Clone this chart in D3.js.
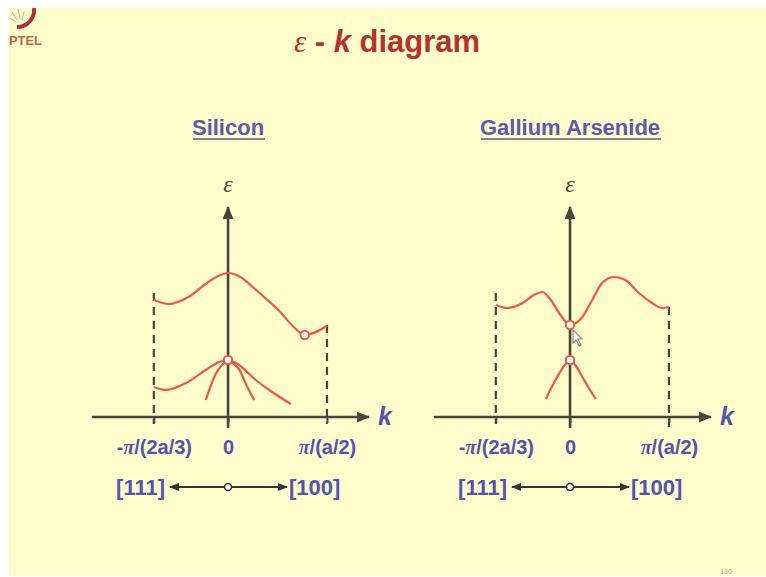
<!DOCTYPE html>
<html>
<head>
<meta charset="utf-8">
<script src="https://cdn.jsdelivr.net/npm/d3@7"></script>
<style>
  html, body { margin: 0; padding: 0; background: #ffffff; }
  svg { display: block; }
</style>
</head>
<body>
<svg id="chart" width="766" height="577"></svg>
<script>
// k is measured in units of π/a, ε in arbitrary energy units
const kTicks = [-1.5, 0, 2];
const kTickLabels = ["-π/(2a/3)", "0", "π/(a/2)"];
const directionLabels = ["[111]", "[100]"];
const panelTitles = ["Silicon", "Gallium Arsenide"];

// Silicon: conduction band and the valence bands meeting at k = 0
const siConduction = [[-1.5, 11.7], [-1.2, 11.3], [-0.8, 12.0], [-0.4, 13.5], [-0.2, 14.1],
  [0, 14.4], [0.25, 14.0], [0.5, 13.0], [0.75, 11.9], [1.0, 10.8], [1.35, 8.9],
  [1.55, 8.2], [2.0, 9.1]];
const siHeavyHole = [[-1.5, 3.0], [-1.26, 2.7], [-0.85, 3.4], [-0.45, 4.7], [-0.18, 5.5],
  [0, 5.7], [0.22, 5.2], [0.56, 3.7], [0.89, 2.5], [1.27, 1.3]];
const siLightHoleLeft = [[-0.45, 1.7], [-0.35, 3.1], [-0.25, 4.3], [-0.12, 5.2], [0, 5.7]];
const siLightHoleRight = [[0, 5.7], [0.12, 5.3], [0.22, 4.8], [0.39, 3.0], [0.53, 1.7]];
const siExtrema = [[0, 5.7], [1.55, 8.2]];
const siZoneEdgeTop = [12.4, 9.2];

// Gallium arsenide: direct gap at k = 0
const gaConduction = [[-1.5, 11.2], [-1.27, 10.9], [-0.96, 11.4], [-0.73, 12.2], [-0.56, 12.5],
  [-0.39, 11.7], [-0.22, 10.4], [0, 9.2], [0.25, 10.0], [0.45, 11.7], [0.65, 13.4],
  [0.89, 14.0], [1.12, 13.7], [1.39, 12.4], [1.66, 11.4], [1.86, 10.9], [2.0, 11.0]];
const gaValence = [[-0.49, 1.8], [-0.38, 2.9], [-0.26, 4.0], [-0.12, 5.1], [0, 5.7],
  [0.12, 5.1], [0.25, 4.0], [0.38, 2.9], [0.52, 1.8]];
const gaExtrema = [[0, 5.7], [0, 9.2]];
const gaZoneEdgeTop = [12.4, 11.0];

const kDomain = [-2.75, 2.85];
const eDomain = [-1.1, 21];

const BG = "#fffdcc";
const BAND = "#ee5842";
const AXIS = "#46463a";
const BLUE = "#5353b0";
const SANS = "'Liberation Sans', Arial, sans-serif";
const SERIF = "'Liberation Serif', 'Times New Roman', serif";

const svg = d3.select("#chart");

// slide background
svg.append("rect").attr("x", 0).attr("y", 0).attr("width", 766).attr("height", 577).attr("fill", "#ffffff");
svg.append("rect").attr("x", 9).attr("y", 8).attr("width", 757).attr("height", 568).attr("fill", BG);

// arrowhead markers
const defs = svg.append("defs");
defs.append("marker")
  .attr("id", "arrow")
  .attr("markerUnits", "userSpaceOnUse")
  .attr("viewBox", "0 0 12 10")
  .attr("refX", 11).attr("refY", 5)
  .attr("markerWidth", 13).attr("markerHeight", 11)
  .attr("orient", "auto-start-reverse")
  .append("path").attr("d", "M0,0 L12,5 L0,10 Z").attr("fill", AXIS);
defs.append("marker")
  .attr("id", "arrowSmall")
  .attr("markerUnits", "userSpaceOnUse")
  .attr("viewBox", "0 0 10 8")
  .attr("refX", 9).attr("refY", 4)
  .attr("markerWidth", 10).attr("markerHeight", 8)
  .attr("orient", "auto-start-reverse")
  .append("path").attr("d", "M0,0 L10,4 L0,8 Z").attr("fill", "#333333");

// logo corner
const logo = svg.append("g");
logo.append("path")
  .attr("d", "M34,8 A17,17 0 0 1 17,27")
  .attr("fill", "none").attr("stroke", "#b0303a").attr("stroke-width", 4);
logo.append("path")
  .attr("d", "M12,12 L17,20 M18,9 L20,19 M24,12 L22,20 M10,18 L16,22")
  .attr("stroke", "#c9a8a0").attr("stroke-width", 1).attr("fill", "none");
logo.append("text")
  .attr("x", 9).attr("y", 45)
  .attr("font-family", SANS).attr("font-weight", "bold").attr("font-size", 12)
  .attr("fill", "#bb6a3a").attr("textLength", 33).attr("lengthAdjust", "spacingAndGlyphs")
  .text("PTEL");

// title
const title = svg.append("text")
  .attr("x", 387).attr("y", 52)
  .attr("text-anchor", "middle")
  .attr("fill", "#b3342c")
  .attr("font-family", SANS).attr("font-weight", "bold").attr("font-size", 31);
title.append("tspan").attr("font-family", SERIF).attr("font-style", "italic").attr("font-weight", "normal").text("ε");
title.append("tspan").text(" - ");
title.append("tspan").attr("font-style", "italic").text("k");
title.append("tspan").text(" diagram");

// page number
svg.append("text")
  .attr("x", 726).attr("y", 574)
  .attr("text-anchor", "middle")
  .attr("font-family", SANS).attr("font-size", 7).attr("fill", "#a5a592")
  .text("130");

const panels = [
  { title: panelTitles[0], left: 92, conduction: siConduction,
    valence: [siHeavyHole, siLightHoleLeft, siLightHoleRight],
    extrema: siExtrema, edgeTop: siZoneEdgeTop, edgeBottom: [-0.7, -0.7] },
  { title: panelTitles[1], left: 434, conduction: gaConduction,
    valence: [gaValence],
    extrema: gaExtrema, edgeTop: gaZoneEdgeTop, edgeBottom: [-0.7, -1.3] }
];

const y = d3.scaleLinear().domain(eDomain).range([428, 207]);

panels.forEach((p, pi) => {
  const x = d3.scaleLinear().domain(kDomain).range([p.left, p.left + 277]);
  const g = svg.append("g");
  const cx = x(0);

  // panel heading
  const head = g.append("text")
    .attr("x", cx).attr("y", 135)
    .attr("text-anchor", "middle")
    .attr("font-family", SANS).attr("font-weight", "bold").attr("font-size", 22)
    .attr("fill", "#5a5ab0")
    .text(p.title);
  const w = head.node().getComputedTextLength();
  g.append("line")
    .attr("x1", cx - w / 2 + 1).attr("x2", cx + w / 2 + 1)
    .attr("y1", 139).attr("y2", 139)
    .attr("stroke", "#5a5a70").attr("stroke-width", 1.6);

  // Brillouin-zone edges
  const edgeK = [kTicks[0], kTicks[2]];
  g.selectAll(".edge").data(edgeK).join("line")
    .attr("x1", d => x(d)).attr("x2", d => x(d))
    .attr("y1", (d, i) => y(p.edgeTop[i])).attr("y2", (d, i) => y(p.edgeBottom[i]))
    .attr("stroke", AXIS).attr("stroke-width", 2.2)
    .attr("stroke-dasharray", "8,6");

  // k axis ticks and labels
  const axis = d3.axisBottom(x)
    .tickValues(kTicks)
    .tickFormat((d, i) => kTickLabels[i])
    .tickSizeInner(6).tickSizeOuter(0).tickPadding(17);
  const ag = g.append("g").attr("transform", `translate(0,${y(0)})`).call(axis);
  ag.select(".domain").remove();
  ag.selectAll(".tick line").attr("stroke", AXIS).attr("stroke-width", 2);
  ag.selectAll(".tick text")
    .attr("font-family", SANS).attr("font-weight", "bold").attr("font-size", 20)
    .attr("fill", BLUE)
    .each(function (d, i) {
      const t = d3.select(this);
      const label = kTickLabels[i];
      t.text(null);
      label.split(/(π)/).filter(s => s.length).forEach(s => {
        const sp = t.append("tspan").text(s);
        if (s === "π") sp.attr("font-family", SERIF).attr("font-style", "italic");
      });
    });

  // axis lines with arrows
  g.append("line")
    .attr("x1", x(kDomain[0])).attr("x2", x(kDomain[1]))
    .attr("y1", y(0)).attr("y2", y(0))
    .attr("stroke", AXIS).attr("stroke-width", 2.6)
    .attr("marker-end", "url(#arrow)");
  g.append("line")
    .attr("x1", cx).attr("x2", cx)
    .attr("y1", y(eDomain[0])).attr("y2", y(eDomain[1]))
    .attr("stroke", AXIS).attr("stroke-width", 2.6)
    .attr("marker-end", "url(#arrow)");

  // axis letters
  g.append("text")
    .attr("x", x(kDomain[1]) + 16).attr("y", y(0) + 8)
    .attr("text-anchor", "middle")
    .attr("font-family", SANS).attr("font-weight", "bold").attr("font-style", "italic")
    .attr("font-size", 25).attr("fill", BLUE)
    .text("k");
  g.append("text")
    .attr("x", cx).attr("y", 192)
    .attr("text-anchor", "middle")
    .attr("font-family", SERIF).attr("font-style", "italic")
    .attr("font-size", 24).attr("fill", "#4a4a40")
    .text("ε");

  // energy bands
  const line = d3.line()
    .x(d => x(d[0])).y(d => y(d[1]))
    .curve(d3.curveMonotoneX);
  g.append("path").datum(p.conduction)
    .attr("d", line).attr("fill", "none")
    .attr("stroke", BAND).attr("stroke-width", 2.2);
  p.valence.forEach(band => {
    g.append("path").datum(band)
      .attr("d", line).attr("fill", "none")
      .attr("stroke", BAND).attr("stroke-width", 2.2);
  });

  // band extrema
  g.selectAll(".ext").data(p.extrema).join("circle")
    .attr("cx", d => x(d[0])).attr("cy", d => y(d[1]))
    .attr("r", 4.2)
    .attr("fill", "#ffffff").attr("stroke", BAND).attr("stroke-width", 2);

  // crystal directions
  const dy = 487;
  g.append("line")
    .attr("x1", cx - 58).attr("x2", cx + 59)
    .attr("y1", dy).attr("y2", dy)
    .attr("stroke", "#333333").attr("stroke-width", 2)
    .attr("marker-start", "url(#arrowSmall)")
    .attr("marker-end", "url(#arrowSmall)");
  g.append("circle")
    .attr("cx", cx).attr("cy", dy).attr("r", 3.5)
    .attr("fill", "#ffffff").attr("stroke", "#333333").attr("stroke-width", 1.6);
  g.append("text")
    .attr("x", cx - 63).attr("y", dy + 8)
    .attr("text-anchor", "end")
    .attr("font-family", SANS).attr("font-weight", "bold").attr("font-size", 22)
    .attr("fill", BLUE)
    .text(directionLabels[0]);
  g.append("text")
    .attr("x", cx + 61).attr("y", dy + 8)
    .attr("text-anchor", "start")
    .attr("font-family", SANS).attr("font-weight", "bold").attr("font-size", 22)
    .attr("fill", BLUE)
    .text(directionLabels[1]);

  // mouse pointer resting on the gallium arsenide panel
  if (pi === 1) {
    g.append("path")
      .attr("d", `M${cx + 3},${y(9.2) + 5} l0,13 l3,-3 l3,6 l2,-1 l-3,-6 l4,0 Z`)
      .attr("fill", "#ffffff").attr("stroke", "#8a8a8a").attr("stroke-width", 1.2);
  }
});
</script>
</body>
</html>
